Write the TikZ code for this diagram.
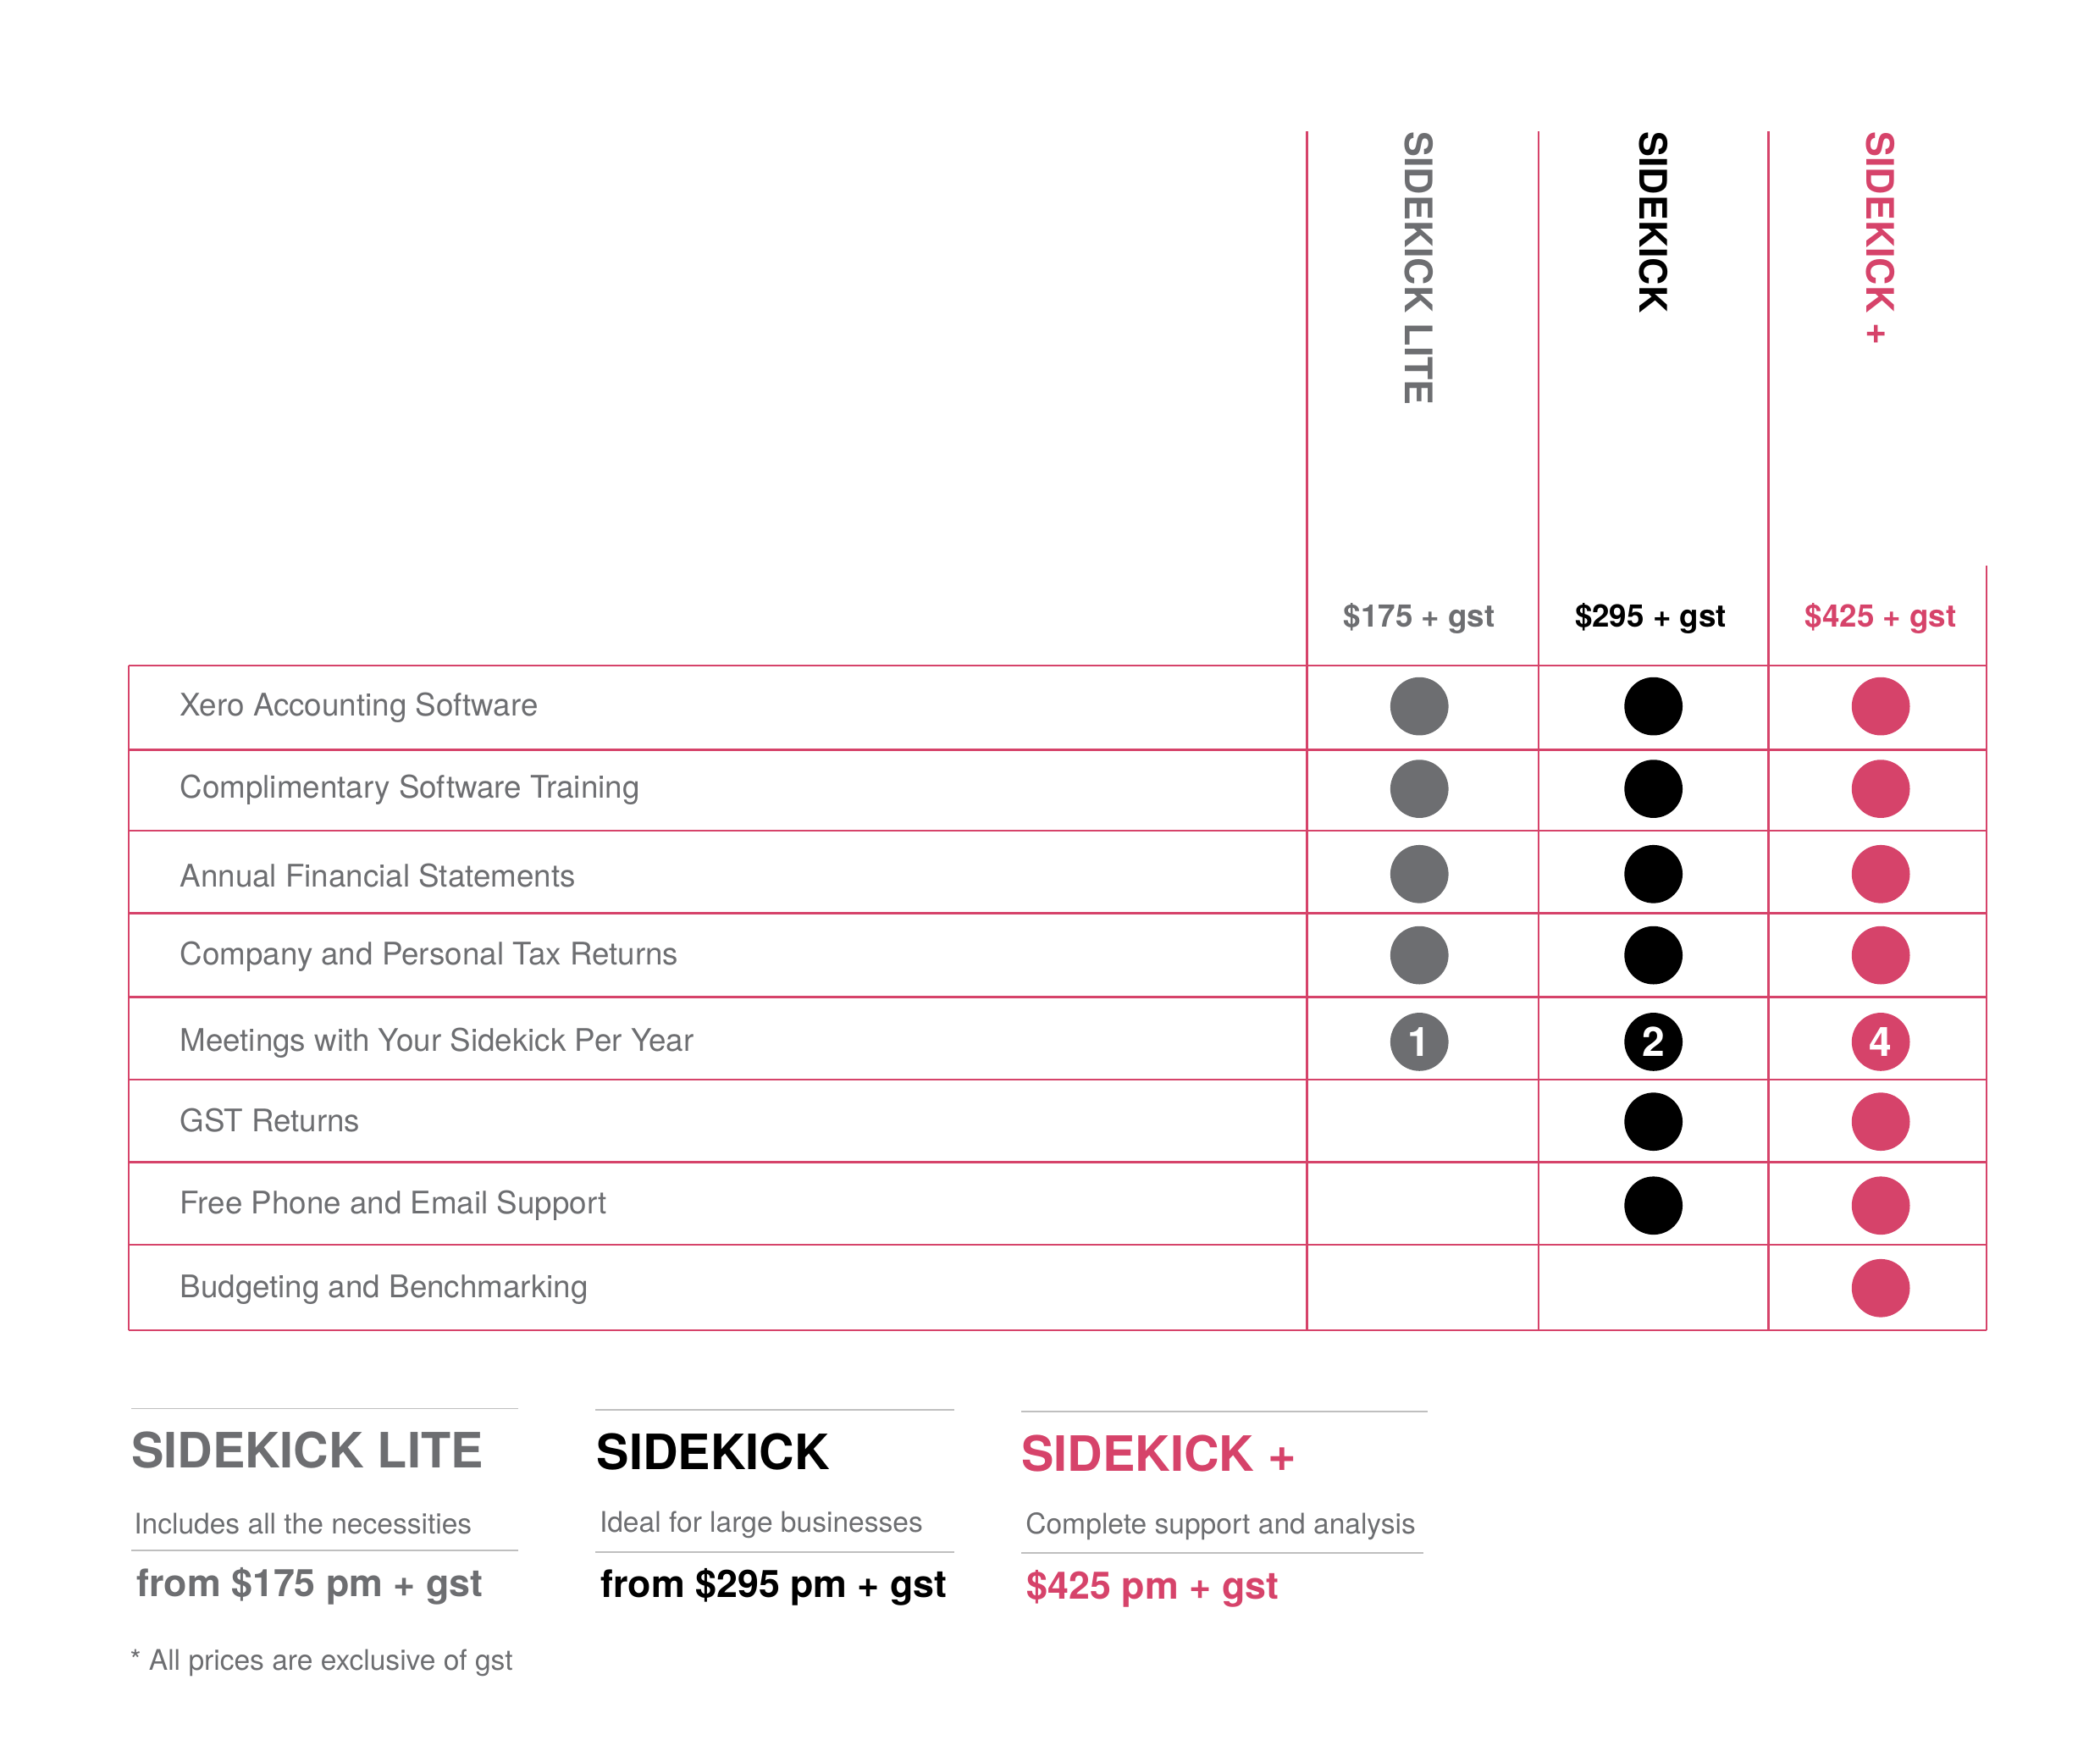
\documentclass[tikz,border=0pt]{standalone}
\usepackage{fontspec}
\setmainfont{TeX Gyre Heros}
\definecolor{gr}{HTML}{6D6E71}
\definecolor{rd}{HTML}{D6436A}
\begin{document}
\begin{tikzpicture}[x=0.5pt,y=-0.5pt,
  rule/.style={draw=rd,line width=0.8pt},
  dot/.style={circle,minimum size=21.5pt,inner sep=0pt},
  feat/.style={anchor=west,text=gr,font=\fontsize{11.5}{13}\selectfont},
  price/.style={font=\fontsize{11.5}{13}\selectfont\bfseries},
  head/.style={rotate=-90,anchor=west,inner sep=0pt,font=\fontsize{14}{16}\selectfont\bfseries},
  ttl/.style={anchor=west,font=\fontsize{18}{20}\selectfont\bfseries},
  sub/.style={anchor=west,text=gr,font=\fontsize{10.5}{12}\selectfont},
  pm/.style={anchor=west,font=\fontsize{14}{16}\selectfont\bfseries},
  sep/.style={draw=gray!50,line width=0.6pt}]
\useasboundingbox (0,0) rectangle (1552,1290);
% grid
\foreach \x in {966,1137,1307} \draw[rule] (\x,97) -- (\x,983);
\draw[rule] (1468,418) -- (1468,983);
\draw[rule] (95,492) -- (95,983);
\foreach \y in {492,554,614,675,737,798,859,920,983} \draw[rule] (95,\y) -- (1468,\y);
% headers
\node[head,text=gr] (h1) at (1049,97) {SIDEKICK LITE};
\node[head,text=black] (h2) at (1222,97) {SIDEKICK};
\node[head,text=rd] (h3) at (1390,97) {SIDEKICK +};
\node[price,text=gr] (p1) at (1049,457) {\$175 + gst};
\node[price,text=black] (p2) at (1220,457) {\$295 + gst};
\node[price,text=rd] (p3) at (1390,457) {\$425 + gst};
% features
\node[feat] (f1) at (126,523) {Xero Accounting Software};
\node[feat] (f2) at (126,584) {Complimentary Software Training};
\node[feat] (f3) at (126,647) {Annual Financial Statements};
\node[feat] (f4) at (126,707) {Company and Personal Tax Returns};
\node[feat] (f5) at (126,771) {Meetings with Your Sidekick Per Year};
\node[feat] (f6) at (126,828) {GST Returns};
\node[feat] (f7) at (126,891) {Free Phone and Email Support};
\node[feat] (f8) at (126,953) {Budgeting and Benchmarking};
% dots
\foreach \y/\i in {522/1,583/2,646/3,706/4}{
  \node[dot,fill=gr] (a\i) at (1049,\y) {};
  \node[dot,fill=black] (b\i) at (1222,\y) {};
  \node[dot,fill=rd] (c\i) at (1390,\y) {};}
\node[dot,fill=gr,text=white,font=\fontsize{15}{15}\selectfont\bfseries] (a5) at (1049,770) {1};
\node[dot,fill=black,text=white,font=\fontsize{15}{15}\selectfont\bfseries] (b5) at (1222,770) {2};
\node[dot,fill=rd,text=white,font=\fontsize{15}{15}\selectfont\bfseries] (c5) at (1390,770) {4};
\foreach \y/\i in {829/6,891/7}{
  \node[dot,fill=black] (b\i) at (1222,\y) {};
  \node[dot,fill=rd] (c\i) at (1390,\y) {};}
\node[dot,fill=rd] (c8) at (1390,952) {};
% bottom
\draw[sep] (97,1041) -- (383,1041);
\draw[sep] (97,1146) -- (383,1146);
\draw[sep] (440,1042) -- (705,1042);
\draw[sep] (440,1147) -- (705,1147);
\draw[sep] (755,1043) -- (1055,1043);
\draw[sep] (755,1148) -- (1052,1148);
\node[ttl,text=gr] (t1) at (90,1072) {SIDEKICK LITE};
\node[ttl,text=black] (t2) at (434,1073) {SIDEKICK};
\node[ttl,text=rd] (t3) at (748,1074) {SIDEKICK +};
\node[sub] (s1) at (92,1126) {Includes all the necessities};
\node[sub] (s2) at (436,1127) {Ideal for large businesses};
\node[sub] (s3) at (751,1128) {Complete support and analysis};
\node[pm,text=gr] (m1) at (94,1172) {from \$175 pm + gst};
\node[pm,text=black] (m2) at (437,1173) {from \$295 pm + gst};
\node[pm,text=rd] (m3) at (752,1174) {\$425 pm + gst};
\node[sub] (fn) at (89,1229) {* All prices are exclusive of gst};
\end{tikzpicture}
\end{document}
